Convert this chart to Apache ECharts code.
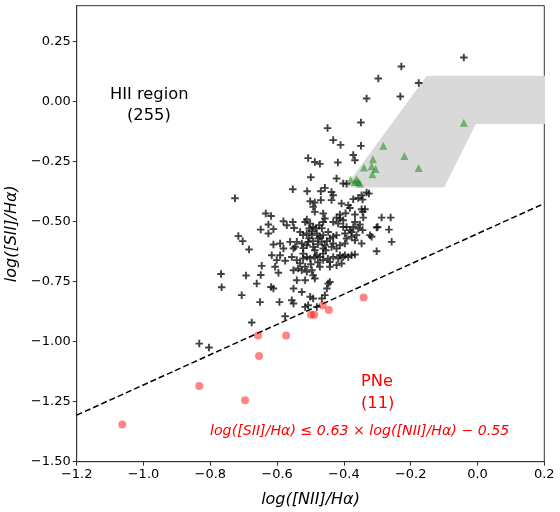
<!DOCTYPE html>
<html><head><meta charset="utf-8">
<script src="https://cdn.jsdelivr.net/npm/echarts@6/dist/echarts.min.js"></script>
<style>html,body{margin:0;padding:0;background:#fff}#c{width:560px;height:512px}</style>
</head><body><div id="c"></div>
<script>
// HII regions (black crosses)
const hii = [
[-0.041,0.184],[-0.228,0.147],[-0.297,0.097],[-0.176,0.078],[-0.332,0.013],[-0.231,0.022],[-0.349,-0.087],[-0.449,-0.110],
[-0.432,-0.160],[-0.410,-0.180],[-0.349,-0.184],[-0.507,-0.235],[-0.487,-0.251],[-0.472,-0.259],[-0.418,-0.253],[-0.372,-0.222],[-0.367,-0.244],[-0.499,-0.315],[-0.422,-0.320],[-0.402,-0.341],[-0.392,-0.342],
[-0.726,-0.402],[-0.634,-0.466],[-0.618,-0.476],[-0.581,-0.498],[-0.649,-0.533],[-0.626,-0.512],[-0.611,-0.531],[-0.626,-0.549],[-0.571,-0.515],[-0.716,-0.560],[-0.703,-0.581],[-0.684,-0.616],[-0.611,-0.595],[-0.591,-0.591],[-0.581,-0.612],[-0.616,-0.640],[-0.591,-0.640],[-0.601,-0.660],[-0.576,-0.663],[-0.646,-0.684],[-0.606,-0.688],[-0.768,-0.718],[-0.693,-0.724],[-0.649,-0.722],[-0.596,-0.713],[-0.661,-0.758],[-0.766,-0.773],[-0.618,-0.772],[-0.611,-0.778],[-0.706,-0.806],[-0.651,-0.835],[-0.593,-0.835],[-0.576,-0.894],[-0.676,-0.920],[-0.833,-1.008],[-0.804,-1.024],[-0.260,-0.483],[-0.257,-0.584],
[-0.553,-0.365],[-0.510,-0.373],[-0.469,-0.373],[-0.457,-0.359],[-0.437,-0.376],[-0.432,-0.390],[-0.501,-0.415],[-0.487,-0.420],[-0.469,-0.410],[-0.437,-0.410],[-0.492,-0.438],[-0.487,-0.459],[-0.462,-0.466],[-0.407,-0.424],[-0.387,-0.431],[-0.382,-0.443],[-0.372,-0.406],[-0.357,-0.401],[-0.347,-0.390],[-0.344,-0.408],[-0.332,-0.378],[-0.325,-0.383],[-0.347,-0.448],[-0.337,-0.448],[-0.344,-0.459],[-0.367,-0.470],[-0.287,-0.483],[-0.265,-0.533],[-0.299,-0.522],[-0.553,-0.501],[-0.549,-0.526],
[-0.516,-0.501],[-0.511,-0.491],[-0.501,-0.508],[-0.504,-0.528],[-0.492,-0.522],[-0.484,-0.528],[-0.474,-0.515],[-0.462,-0.501],[-0.457,-0.487],[-0.432,-0.501],[-0.412,-0.487],[-0.412,-0.470],[-0.417,-0.508],[-0.402,-0.522],
[-0.531,-0.543],[-0.522,-0.556],[-0.511,-0.549],[-0.496,-0.556],[-0.481,-0.549],[-0.472,-0.563],[-0.462,-0.556],[-0.447,-0.543],[-0.442,-0.570],[-0.422,-0.556],[-0.397,-0.549],[-0.392,-0.570],[-0.377,-0.543],[-0.372,-0.522],[-0.357,-0.528],[-0.352,-0.512],[-0.362,-0.556],[-0.377,-0.563],[-0.322,-0.556],[-0.317,-0.563],[-0.302,-0.524],
[-0.541,-0.584],[-0.526,-0.591],[-0.507,-0.584],[-0.492,-0.581],[-0.477,-0.570],[-0.466,-0.584],[-0.457,-0.598],[-0.432,-0.591],[-0.412,-0.598],[-0.397,-0.591],[-0.367,-0.577],[-0.347,-0.591],
[-0.522,-0.633],[-0.481,-0.640],[-0.462,-0.633],[-0.412,-0.640],[-0.397,-0.640],[-0.387,-0.647],[-0.367,-0.637],[-0.302,-0.623],[-0.551,-0.612],
[-0.395,-0.465],[-0.342,-0.483],[-0.367,-0.501],[-0.402,-0.494],[-0.422,-0.483],[-0.392,-0.522],[-0.382,-0.535],[-0.344,-0.535],[-0.546,-0.605],[-0.511,-0.598],[-0.492,-0.605],[-0.462,-0.612],[-0.437,-0.605],[-0.422,-0.612],[-0.561,-0.584],[-0.432,-0.563],
[-0.556,-0.647],[-0.541,-0.660],[-0.522,-0.653],[-0.511,-0.647],[-0.501,-0.653],[-0.487,-0.647],[-0.472,-0.647],[-0.462,-0.660],[-0.442,-0.668],[-0.432,-0.647],[-0.417,-0.653],[-0.407,-0.674],[-0.402,-0.647],[-0.377,-0.640],
[-0.551,-0.702],[-0.537,-0.695],[-0.526,-0.702],[-0.516,-0.688],[-0.511,-0.709],[-0.496,-0.702],[-0.492,-0.723],[-0.487,-0.737],[-0.541,-0.744],[-0.516,-0.744],[-0.551,-0.778],[-0.526,-0.793],[-0.501,-0.813],[-0.492,-0.820],[-0.466,-0.820],[-0.457,-0.806],[-0.451,-0.778],[-0.447,-0.758],[-0.442,-0.751],[-0.556,-0.827],[-0.551,-0.841],[-0.516,-0.855],[-0.507,-0.848],[-0.481,-0.855],[-0.422,-0.681],[-0.442,-0.688],[-0.472,-0.688],
[-0.496,-0.540],[-0.478,-0.594],[-0.454,-0.619],[-0.487,-0.619],[-0.504,-0.569],[-0.466,-0.527],[-0.451,-0.581],[-0.522,-0.610],[-0.478,-0.669],[-0.499,-0.677],[-0.448,-0.654],[-0.531,-0.673]
];
// SNR (green triangles)
const snr = [
[-0.041,-0.088],[-0.282,-0.184],[-0.219,-0.226],[-0.313,-0.240],[-0.340,-0.274],[-0.317,-0.269],[-0.305,-0.280],
[-0.315,-0.302],[-0.176,-0.276],[-0.380,-0.324],[-0.362,-0.323],[-0.357,-0.334],[-0.352,-0.341],[-0.367,-0.335]
];
// PNe (red circles)
const pne = [
[-0.341,-0.816],[-0.4635,-0.848],[-0.445,-0.8675],[-0.4985,-0.888],[-0.489,-0.888],[-0.573,-0.974],
[-0.657,-0.974],[-0.654,-1.060],[-0.833,-1.185],[-0.696,-1.244],[-1.0635,-1.345]
];
// SNR region polygon
const polyX = [-0.397, -0.152, 0.25, 0.25, -0.005, -0.100];
const polyY = [-0.357, 0.108, 0.108, -0.093, -0.093, -0.357];
// demarcation line endpoints
const lineX = [-1.2, 0.2];
const lineY = [-1.306, -0.424];
const yTicks = [-1.5, -1.25, -1.0, -0.75, -0.5, -0.25, 0, 0.25];

const FONT = 'DejaVu Sans';
const minus = s => s.replace('-', '\u2212');
const chart = echarts.init(document.getElementById('c'), null, {renderer: 'canvas'});
const plus = 'path://M-0.9,-3.5H0.9V-0.9H3.5V0.9H0.9V3.5H-0.9V0.9H-3.5V-0.9H-0.9Z';

chart.setOption({
  animation: false,
  grid: {left: 76.7, right: 15.7, top: 5.7, bottom: 50.3, containLabel: false, outerBoundsMode: 'none',
         show: true, borderColor: '#333', borderWidth: 1},
  xAxis: {
    type: 'value', min: -1.2, max: 0.2, interval: 0.2,
    splitLine: {show: false},
    axisLine: {show: true, onZero: false, lineStyle: {color: '#333'}},
    axisTick: {show: true, length: 4, lineStyle: {color: '#333'}},
    axisLabel: {color: '#000', fontFamily: FONT, fontSize: 13, margin: 6, formatter: v => minus(v.toFixed(1))},
    name: 'log([NII]/H\u03b1)', nameLocation: 'middle', nameGap: 30,
    nameTextStyle: {color: '#000', fontFamily: FONT, fontSize: 16, fontStyle: 'italic'}
  },
  yAxis: {
    type: 'value', min: -1.5, max: 0.4,
    splitLine: {show: false},
    axisLine: {show: true, onZero: false, lineStyle: {color: '#333'}},
    axisTick: {show: true, length: 4, lineStyle: {color: '#333'}, customValues: yTicks},
    axisLabel: {color: '#000', fontFamily: FONT, fontSize: 13, margin: 6, customValues: yTicks, formatter: v => minus(v.toFixed(2))},
    name: 'log([SII]/H\u03b1)', nameLocation: 'middle', nameGap: 52,
    nameTextStyle: {color: '#000', fontFamily: FONT, fontSize: 16, fontStyle: 'italic'}
  },
  series: [
    {
      type: 'custom', clip: true, z: 1, silent: true,
      data: [0],
      renderItem: (params, api) => {
        const pts = polyX.map((x, i) => api.coord([x, polyY[i]]));
        return {type: 'polygon', shape: {points: pts}, style: {fill: '#d9d9d9'}};
      }
    },
    {
      type: 'line', z: 2, symbol: 'none', silent: true,
      data: lineX.map((x, i) => [x, lineY[i]]),
      lineStyle: {color: '#000', width: 1.5, type: [6, 3]}
    },
    {
      type: 'scatter', z: 3, symbol: plus, symbolSize: 7.5, data: hii,
      itemStyle: {color: '#111'}
    },
    {
      type: 'scatter', z: 4, symbol: 'triangle', symbolSize: 8, data: snr,
      itemStyle: {color: 'rgba(0,128,0,0.6)'}
    },
    {
      type: 'scatter', z: 5, symbol: 'circle', symbolSize: 8, data: pne,
      itemStyle: {color: 'rgba(255,0,0,0.6)'}
    }
  ],
  graphic: [
    {type: 'text', left: 110, top: 87, style: {text: 'HII region', fill: '#000', font: '16.3px "DejaVu Sans"'}},
    {type: 'text', left: 127, top: 108, style: {text: '(255)', fill: '#000', font: '16.3px "DejaVu Sans"'}},
    {type: 'text', left: 418, top: 98, style: {text: 'SNR', fill: '#008000', font: '16.3px "DejaVu Sans"'}},
    {type: 'text', left: 418, top: 120, style: {text: '(14)', fill: '#008000', font: '16.3px "DejaVu Sans"'}},
    {type: 'text', left: 361, top: 374, style: {text: 'PNe', fill: '#ff0000', font: '16.3px "DejaVu Sans"'}},
    {type: 'text', left: 361, top: 396, style: {text: '(11)', fill: '#ff0000', font: '16.3px "DejaVu Sans"'}},
    {type: 'text', left: 210, top: 424, style: {text: 'log([SII]/H\u03b1) \u2264 0.63 \u00d7 log([NII]/H\u03b1) \u2212 0.55', fill: '#ff0000', font: 'italic 14.2px "DejaVu Sans"'}}
  ]
});
</script></body></html>
